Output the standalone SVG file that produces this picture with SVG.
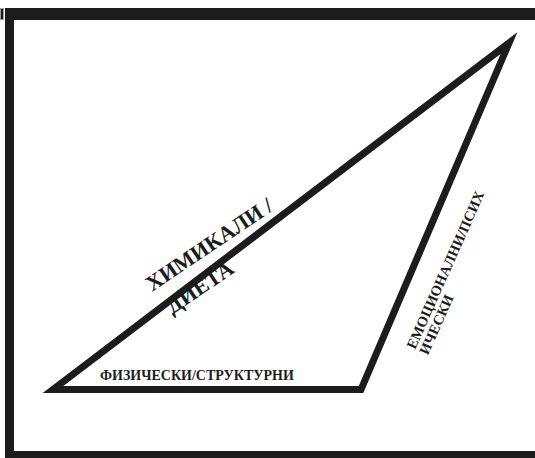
<svg xmlns="http://www.w3.org/2000/svg" width="535" height="458" viewBox="0 0 535 458">
<style>
.ink{fill:#1c1c1c}
.edge{fill:none;stroke:#1c1c1c;stroke-width:7;stroke-linejoin:miter;stroke-miterlimit:10}
.lbl{font-family:"Liberation Serif","Times New Roman",serif;font-weight:bold;fill:#1c1c1c}
</style>
<rect width="535" height="458" fill="#ffffff"/>
<g id="frame">
<path class="ink" fill-rule="evenodd" d="M5 8H545V470H5Z M14 20V451H545V20Z"/>
<rect x="0.5" y="8.5" width="3" height="11" fill="#1c1c1c" stroke="#a0a0a0" stroke-width="1"/>
</g>
<g id="connectors">
<polygon class="edge" points="53,389.5 509,43 361,389.5"/>
</g>
<g id="node-chemical">
<text class="lbl" font-size="22" transform="translate(152,292) rotate(-34)"><tspan x="0" y="0">ХИМИКАЛИ /</tspan><tspan x="4" y="30">ДИЕТА</tspan></text>
</g>
<g id="node-emotional">
<text class="lbl" font-size="14.5" transform="translate(415,350) rotate(-66)"><tspan x="0" y="0">ЕМОЦИОНАЛНИ/ПСИХ</tspan><tspan x="0" y="14">ИЧЕСКИ</tspan></text>
</g>
<g id="node-physical">
<text class="lbl" font-size="14" x="100" y="380">ФИЗИЧЕСКИ/СТРУКТУРНИ</text>
</g>
</svg>
